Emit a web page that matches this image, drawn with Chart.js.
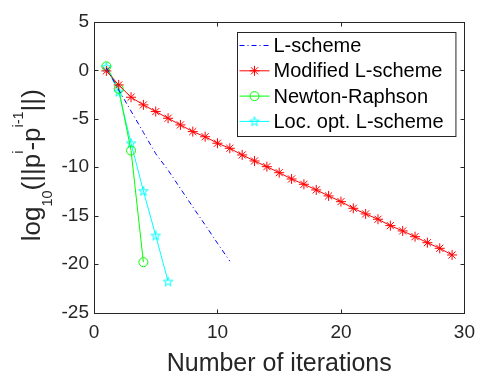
<!DOCTYPE html>
<html>
<head>
<meta charset="utf-8">
<script src="https://cdn.jsdelivr.net/npm/chart.js@4/dist/chart.umd.min.js"></script>
<style>
body { margin: 0; background: #fff; }
#wrap { width: 484px; height: 385px; }
</style>
</head>
<body>
<div id="wrap"><canvas id="myChart" width="484" height="385"></canvas></div>
<script>
// iterations and log10 of the increment norm for each scheme
var lSchemeIter = [1, 2, 3, 4, 5, 6, 7, 8, 9, 10, 11];
var lSchemeVal = [0.25, -2.0, -4.2, -6.4, -8.6, -10.3, -12.2, -14.1, -15.95, -17.85, -19.7];

var modLIter = [1, 2, 3, 4, 5, 6, 7, 8, 9, 10, 11, 12, 13, 14, 15, 16, 17, 18, 19, 20, 21, 22, 23, 24, 25, 26, 27, 28, 29];
var modLVal = [-0.05, -1.5, -2.77, -3.56, -4.25, -4.94, -5.63, -6.32, -6.85, -7.52, -8.04, -8.73, -9.35, -9.94, -10.56,
               -11.21, -11.76, -12.34, -12.96, -13.55, -14.24, -14.82, -15.37, -16.03, -16.58, -17.17, -17.79, -18.37, -19.06];

var newtonIter = [1, 2, 3, 4];
var newtonVal = [0.42, -1.9, -8.28, -19.8];

var locOptIter = [1, 2, 3, 4, 5, 6];
var locOptVal = [0.35, -2.2, -7.52, -12.45, -17.06, -21.8];

var xTicks = [0, 10, 20, 30];
var yTicks = [-25, -20, -15, -10, -5, 0, 5];

var fontFamily = "'Liberation Sans', Arial, Helvetica, sans-serif";
var axisColor = '#262626';

function pts(xs, ys) {
    return xs.map(function (x, i) { return { x: x, y: ys[i] }; });
}

// MATLAB-like pentagram marker
function makePentagram(color) {
    var c = document.createElement('canvas');
    c.width = 14; c.height = 14;
    var g = c.getContext('2d');
    var R = 5, r = R * 0.382, cx = 7, cy = 7.4;
    g.beginPath();
    for (var k = 0; k < 10; k++) {
        var rad = k % 2 === 0 ? R : r;
        var a = -Math.PI / 2 + k * Math.PI / 5;
        var px = cx + rad * Math.cos(a), py = cy + rad * Math.sin(a);
        if (k === 0) g.moveTo(px, py); else g.lineTo(px, py);
    }
    g.closePath();
    g.strokeStyle = color;
    g.lineWidth = 1;
    g.stroke();
    return c;
}
var pentagram = makePentagram('#00ffff');

function drawAsterisk(ctx, x, y, r) {
    ctx.beginPath();
    for (var k = 0; k < 4; k++) {
        var a = k * Math.PI / 4;
        ctx.moveTo(x - r * Math.cos(a), y - r * Math.sin(a));
        ctx.lineTo(x + r * Math.cos(a), y + r * Math.sin(a));
    }
    ctx.stroke();
}

// box with inward ticks on all four sides
var framePlugin = {
    id: 'frame',
    beforeDatasetsDraw: function (chart) {
        var ctx = chart.ctx, a = chart.chartArea;
        var xs = chart.scales.x, ys = chart.scales.y;
        var L = Math.round(a.left) + 0.5, R = Math.round(a.right) + 0.5;
        var T = Math.round(a.top) + 0.5, B = Math.round(a.bottom) + 0.5;
        ctx.save();
        ctx.strokeStyle = axisColor;
        ctx.lineWidth = 1;
        ctx.strokeRect(L, T, R - L, B - T);
        ctx.beginPath();
        xTicks.forEach(function (v) {
            var px = Math.round(xs.getPixelForValue(v)) + 0.5;
            ctx.moveTo(px, B); ctx.lineTo(px, B - 4);
            ctx.moveTo(px, T); ctx.lineTo(px, T + 4);
        });
        yTicks.forEach(function (v) {
            var py = Math.round(ys.getPixelForValue(v)) + 0.5;
            ctx.moveTo(L, py); ctx.lineTo(L + 4, py);
            ctx.moveTo(R, py); ctx.lineTo(R - 4, py);
        });
        ctx.stroke();
        ctx.restore();
    }
};

// y axis title with subscript and superscripts
var yTitlePlugin = {
    id: 'yTitle',
    afterDraw: function (chart) {
        var ctx = chart.ctx;
        var parts = [
            { t: 'log', s: 26, dy: 0 },
            { t: '10', s: 14.5, dy: 12 },
            { t: '(||p', s: 26, dy: 0 },
            { t: 'i', s: 14.5, dy: -17 },
            { t: '-p', s: 26, dy: 0 },
            { t: 'i-1', s: 14.5, dy: -17 },
            { t: '||)', s: 26, dy: 0 }
        ];
        ctx.save();
        ctx.fillStyle = axisColor;
        ctx.textBaseline = 'alphabetic';
        ctx.textAlign = 'left';
        var total = 0;
        parts.forEach(function (p) {
            ctx.font = p.s + 'px ' + fontFamily;
            p.w = ctx.measureText(p.t).width;
            total += p.w;
        });
        var cy = (chart.chartArea.top + chart.chartArea.bottom) / 2 - 2;
        ctx.translate(40, cy);
        ctx.rotate(-Math.PI / 2);
        var x = -total / 2;
        parts.forEach(function (p) {
            ctx.font = p.s + 'px ' + fontFamily;
            ctx.fillText(p.t, x, p.dy);
            x += p.w;
        });
        ctx.restore();
    }
};

// boxed legend inside the plot, lines with markers
var legendPlugin = {
    id: 'boxLegend',
    afterDraw: function (chart) {
        var ctx = chart.ctx, a = chart.chartArea;
        var right = a.right - 8.5, top = a.top + 10.5;
        var left = 237.5, bottom = 136.5;
        ctx.save();
        ctx.fillStyle = '#ffffff';
        ctx.fillRect(left, top, right - left, bottom - top);
        ctx.strokeStyle = axisColor;
        ctx.lineWidth = 1;
        ctx.strokeRect(left, top, right - left, bottom - top);
        ctx.font = '20px ' + fontFamily;
        ctx.textBaseline = 'middle';
        ctx.textAlign = 'left';
        chart.data.datasets.forEach(function (ds, i) {
            var y = top + 13 + i * 25.3;
            var x0 = left + 2, x1 = left + 32, xm = (x0 + x1) / 2;
            ctx.save();
            ctx.strokeStyle = ds.borderColor;
            ctx.lineWidth = 1;
            ctx.setLineDash(ds.borderDash || []);
            ctx.beginPath();
            ctx.moveTo(x0, y); ctx.lineTo(x1, y);
            ctx.stroke();
            ctx.setLineDash([]);
            if (ds.pointStyle === 'star') {
                drawAsterisk(ctx, xm, y, 5);
            } else if (ds.pointStyle === 'circle') {
                ctx.beginPath();
                ctx.arc(xm, y, 4.5, 0, 2 * Math.PI);
                ctx.stroke();
            } else if (ds.pointStyle === pentagram) {
                ctx.drawImage(pentagram, xm - 7, y - 7);
            }
            ctx.restore();
            ctx.fillStyle = '#000000';
            ctx.fillText(ds.label, left + 36, y + 1);
        });
        ctx.restore();
    }
};

Chart.defaults.font.family = fontFamily;
Chart.defaults.color = axisColor;

var ctx = document.getElementById('myChart').getContext('2d');
var chart = new Chart(ctx, {
    type: 'line',
    data: {
        datasets: [{
            label: 'L-scheme',
            data: pts(lSchemeIter, lSchemeVal),
            borderColor: '#0000ff',
            borderWidth: 1,
            borderDash: [5, 3, 1, 3],
            pointRadius: 0,
            fill: false
        }, {
            label: 'Modified L-scheme',
            data: pts(modLIter, modLVal),
            borderColor: '#ff0000',
            borderWidth: 1,
            pointStyle: 'star',
            pointRadius: 5,
            pointBorderColor: '#ff0000',
            pointBorderWidth: 1,
            fill: false
        }, {
            label: 'Newton-Raphson',
            data: pts(newtonIter, newtonVal),
            borderColor: '#00ff00',
            borderWidth: 1,
            pointStyle: 'circle',
            pointRadius: 4.5,
            pointBorderColor: '#00ff00',
            pointBackgroundColor: 'rgba(0,0,0,0)',
            pointBorderWidth: 1,
            fill: false
        }, {
            label: 'Loc. opt. L-scheme',
            data: pts(locOptIter, locOptVal),
            borderColor: '#00ffff',
            borderWidth: 1,
            pointStyle: pentagram,
            pointRadius: 5,
            fill: false
        }]
    },
    options: {
        responsive: false,
        animation: false,
        events: [],
        layout: { padding: { top: 22, right: 15.5, left: 0, bottom: 0 } },
        plugins: {
            legend: { display: false },
            tooltip: { enabled: false }
        },
        scales: {
            x: {
                type: 'linear',
                min: 0,
                max: 30,
                afterBuildTicks: function (s) { s.ticks = xTicks.map(function (v) { return { value: v }; }); },
                ticks: { font: { size: 19 }, color: axisColor, padding: 9, maxRotation: 0 },
                grid: { display: false, drawTicks: false },
                border: { display: false },
                title: {
                    display: true,
                    text: 'Number of iterations',
                    font: { size: 25 },
                    color: axisColor,
                    padding: { top: 0, bottom: 6 }
                },
                afterFit: function (s) { s.height = 72.5; }
            },
            y: {
                type: 'linear',
                min: -25,
                max: 5,
                afterBuildTicks: function (s) { s.ticks = yTicks.map(function (v) { return { value: v }; }); },
                ticks: { font: { size: 19 }, color: axisColor, padding: 5 },
                grid: { display: false, drawTicks: false },
                border: { display: false },
                afterFit: function (s) { s.width = 94; }
            }
        }
    },
    plugins: [framePlugin, yTitlePlugin, legendPlugin]
});
</script>
</body>
</html>
